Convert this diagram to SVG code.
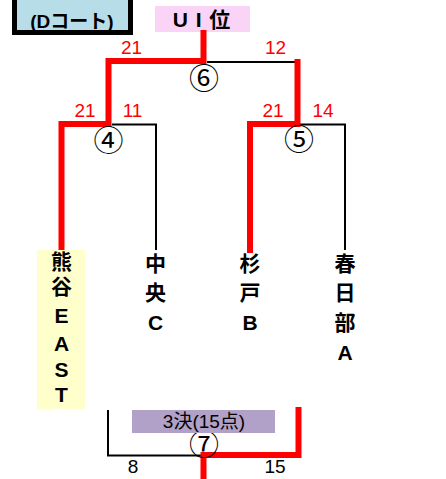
<svg xmlns="http://www.w3.org/2000/svg" width="446" height="479" viewBox="0 0 446 479">
<style>
.red{stroke:#ff0000;stroke-width:6;fill:none;stroke-linecap:square}
.blk{stroke:#000;stroke-width:2;fill:none}
.sc{font-family:"Liberation Sans",Arial,sans-serif;font-size:19px;fill:#ff0000;text-anchor:middle}
.scb{font-family:"Liberation Sans",Arial,sans-serif;font-size:19px;fill:#000;text-anchor:middle}
.num{font-family:"Noto Sans CJK JP","DejaVu Sans",sans-serif;font-size:30px;fill:#000;text-anchor:middle}
.tm{font-family:"Liberation Sans","Noto Sans CJK JP",sans-serif;font-size:21px;font-weight:bold;fill:#000;text-anchor:middle}
.jp{font-family:"Noto Sans CJK JP",sans-serif;font-size:21px;font-weight:bold;fill:#000;text-anchor:middle}
</style>
<rect width="446" height="479" fill="#fff"/>
<g id="court">
<rect x="14.5" y="-20" width="116" height="52.5" fill="#b7dde8" stroke="#000" stroke-width="5"/>
<text x="72" y="27.5" font-family="Liberation Sans,Noto Sans CJK JP,sans-serif" font-size="19" font-weight="bold" text-anchor="middle">(Dコート)</text>
</g>
<g id="title">
<rect x="155" y="6" width="95" height="26" fill="#f9d4f6"/>
<text x="202" y="26.5" font-family="Liberation Sans,Noto Sans CJK JP,sans-serif" font-size="21" font-weight="bold" text-anchor="middle" letter-spacing="1">U I 位</text>
</g>
<g id="connectors">
<path class="blk" d="M207 62 H298"/>
<path class="blk" d="M112 124.5 H156 V250"/>
<path class="blk" d="M300 124.5 H345 V250"/>
<path class="blk" d="M108 410 V455.5 H203"/>
<path class="red" d="M203.5 33 V61 H108.5 V124 H61.5 V250"/>
<path class="red" d="M297.5 62 V124 H250 V250"/>
<path class="red" d="M298.5 410 V455 H203.5 V482"/>
</g>
<g id="m6"><text class="num" x="204" y="89">⑥</text></g>
<g id="m4"><text class="num" x="108.5" y="151">④</text></g>
<g id="m5"><text class="num" x="299" y="150">⑤</text></g>
<g id="m7"><text class="num" x="204" y="455">⑦</text></g>
<g id="scores">
<text class="sc" x="131.5" y="54">21</text>
<text class="sc" x="275.5" y="54">12</text>
<text class="sc" x="85" y="117">21</text>
<text class="sc" x="132.5" y="117">11</text>
<text class="sc" x="273" y="117">21</text>
<text class="sc" x="323" y="117">14</text>
<text class="scb" x="133" y="473">8</text>
<text class="scb" x="275" y="473">15</text>
</g>
<g id="team-kumagaya">
<rect x="37" y="250" width="48" height="159" fill="#ffffcc"/>
<text class="jp" x="61.5" y="269">熊</text>
<text class="jp" x="61.5" y="294">谷</text>
<text class="tm" x="61.5" y="323">E</text>
<text class="tm" x="61.5" y="351">A</text>
<text class="tm" x="61.5" y="377">S</text>
<text class="tm" x="61.5" y="402">T</text>
</g>
<g id="team-chuo">
<text class="jp" x="155.5" y="271">中</text>
<text class="jp" x="155.5" y="300">央</text>
<text class="tm" x="155.5" y="330">C</text>
</g>
<g id="team-sugito">
<text class="jp" x="250" y="271">杉</text>
<text class="jp" x="250" y="300">戸</text>
<text class="tm" x="250" y="330">B</text>
</g>
<g id="team-kasukabe">
<text class="jp" x="345" y="271">春</text>
<text class="jp" x="345" y="300">日</text>
<text class="jp" x="345" y="330">部</text>
<text class="tm" x="345" y="360">A</text>
</g>
<g id="third-place">
<rect x="132" y="410" width="143" height="23" fill="#b1a0c7"/>
<text x="204" y="427.5" font-family="Liberation Sans,Noto Sans CJK JP,sans-serif" font-size="19" text-anchor="middle">3決(15点)</text>
</g>
</svg>
